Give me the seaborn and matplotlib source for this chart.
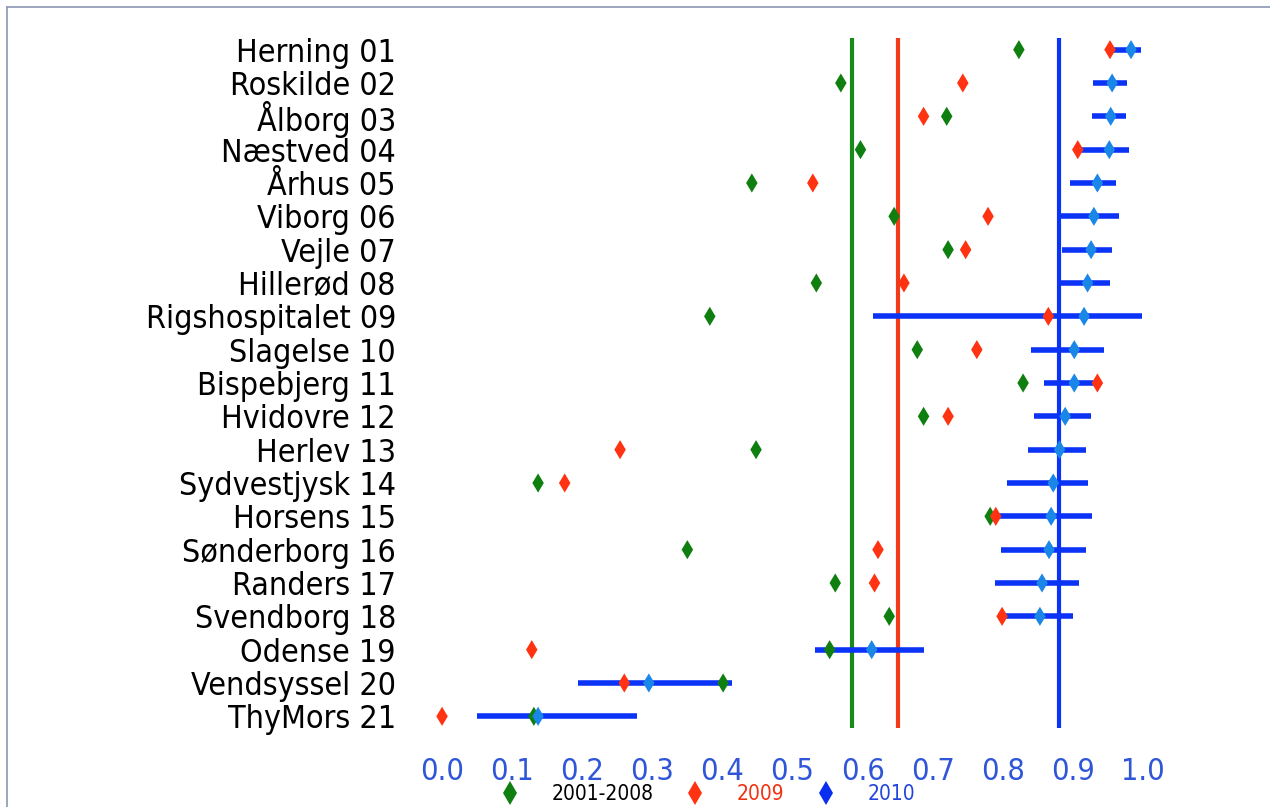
import matplotlib
matplotlib.use("Agg")
import matplotlib.pyplot as plt
import seaborn as sns
import pandas as pd
from matplotlib.lines import Line2D

hospitals = ["Herning 01", "Roskilde 02", "Ålborg 03", "Næstved 04", "Århus 05",
             "Viborg 06", "Vejle 07", "Hillerød 08", "Rigshospitalet 09", "Slagelse 10",
             "Bispebjerg 11", "Hvidovre 12", "Herlev 13", "Sydvestjysk 14", "Horsens 15",
             "Sønderborg 16", "Randers 17", "Svendborg 18", "Odense 19", "Vendsyssel 20",
             "ThyMors 21"]
val_2001_2008 = [0.823, 0.569, 0.720, 0.597, 0.442, 0.645, 0.722, 0.534, 0.382, 0.678,
                 0.829, 0.687, 0.448, 0.137, 0.782, 0.350, 0.561, 0.638, 0.553, 0.401, 0.131]
val_2009 = [0.953, 0.743, 0.687, 0.907, 0.529, 0.779, 0.747, 0.659, 0.865, 0.763,
            0.935, 0.722, 0.254, 0.175, 0.790, 0.622, 0.617, 0.799, 0.128, 0.260, 0.000]
val_2010 = [0.983, 0.956, 0.954, 0.952, 0.935, 0.930, 0.926, 0.921, 0.916, 0.902,
            0.902, 0.889, 0.881, 0.872, 0.869, 0.866, 0.856, 0.853, 0.613, 0.295, 0.137]
ci_low_2010 = [0.950, 0.929, 0.927, 0.910, 0.896, 0.877, 0.884, 0.883, 0.615, 0.840,
               0.859, 0.844, 0.836, 0.806, 0.789, 0.797, 0.789, 0.803, 0.532, 0.194, 0.050]
ci_high_2010 = [0.997, 0.977, 0.976, 0.980, 0.961, 0.966, 0.956, 0.953, 0.999, 0.944,
                0.934, 0.926, 0.919, 0.922, 0.927, 0.919, 0.909, 0.900, 0.688, 0.414, 0.278]
ref_lines = {"2001-2008": 0.585, "2009": 0.650, "2010": 0.880}
periods = ["2001-2008", "2009", "2010"]
xticks = [0.0, 0.1, 0.2, 0.3, 0.4, 0.5, 0.6, 0.7, 0.8, 0.9, 1.0]

line_colors = {"2001-2008": "#1a8a1a", "2009": "#f03a1a", "2010": "#0a33f5"}
marker_colors = {"2001-2008": "#0f7f0f", "2009": "#ff3311", "2010": "#1a86e8"}
legend_colors = {"2001-2008": "#0f7f0f", "2009": "#ff3311", "2010": "#0a2ef0"}
text_colors = {"2001-2008": "black", "2009": "#ee3311", "2010": "#2244dd"}

sns.set_theme(style="white")
plt.rcParams['font.family'] = ['DejaVu Sans']
plt.rcParams['font.stretch'] = 'condensed'

pos = list(range(len(hospitals)))
df = pd.concat([
    pd.DataFrame({"pos": pos, "value": val_2001_2008, "period": "2001-2008"}),
    pd.DataFrame({"pos": pos, "value": val_2009, "period": "2009"}),
    pd.DataFrame({"pos": pos, "value": val_2010, "period": "2010"}),
], ignore_index=True)

fig = plt.figure(figsize=(12.7, 8.07), dpi=100)
ax = fig.add_axes([407 / 1270, 1 - 728 / 807, 771 / 1270, 690 / 807])

for p in periods:
    ax.axvline(ref_lines[p], color=line_colors[p], lw=3, zorder=1)

ax.hlines(pos, ci_low_2010, ci_high_2010, color="#0a33f5", lw=4, zorder=2)

sns.scatterplot(data=df, x="value", y="pos", hue="period", palette=marker_colors,
                marker="d", s=95, linewidth=0, legend=False, ax=ax, zorder=3)

ax.set_xlim(-0.05, 1.05)
ax.set_ylim(20.35, -0.35)
ax.set_yticks(pos)
ax.set_yticklabels(hospitals, fontsize=23, color="black", fontweight="light")
ax.set_xticks(xticks)
ax.set_xticklabels([f"{t:.1f}" for t in xticks], fontsize=22, color="#2f55d8",
                   fontweight="light")
ax.tick_params(axis="x", length=0, pad=21)
ax.tick_params(axis="y", length=0, pad=8)
ax.set_xlabel("")
ax.set_ylabel("")
for sp in ax.spines.values():
    sp.set_visible(False)

handles = [Line2D([], [], marker="d", linestyle="none", markersize=12,
                  markerfacecolor=legend_colors[p], markeredgewidth=0) for p in periods]
leg = fig.legend(handles, periods, loc="center", bbox_to_anchor=(0.553, 0.016),
                 ncol=3, frameon=False, fontsize=15, columnspacing=1.0,
                 handletextpad=1.0, borderaxespad=0, borderpad=0)
for t, p in zip(leg.get_texts(), periods):
    t.set_color(text_colors[p])

fig.add_artist(Line2D([7 / 1270, 7 / 1270], [0, 1 - 7 / 807], transform=fig.transFigure,
                      color="#8a96b4", lw=1.2))
fig.add_artist(Line2D([7 / 1270, 1], [1 - 7 / 807, 1 - 7 / 807], transform=fig.transFigure,
                      color="#8a96b4", lw=1.2))

fig.savefig("out.png", dpi=100)
